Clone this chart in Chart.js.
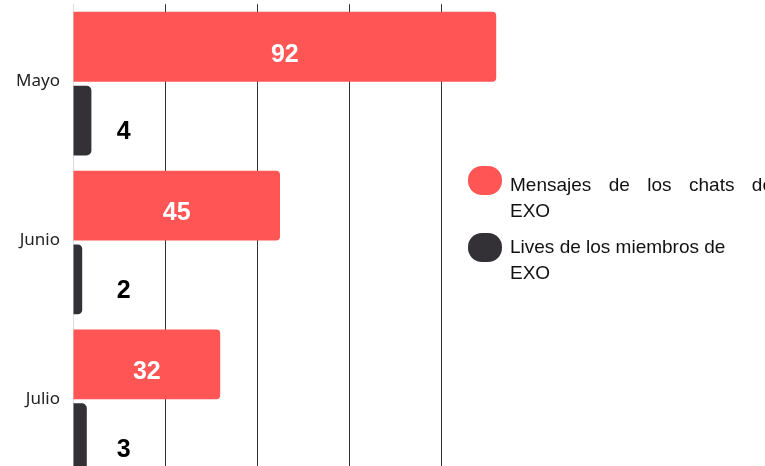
<!DOCTYPE html>
<html>
<head>
<meta charset="utf-8">
<script src="https://cdn.jsdelivr.net/npm/chart.js@4/dist/chart.umd.min.js"></script>
<style>
  html, body { margin: 0; padding: 0; background: #fff; width: 765px; height: 466px; overflow: hidden; }
  #chart { position: absolute; left: 0; top: -11px; }
  .legend { position: absolute; left: 468px; top: 0; font-family: "Liberation Sans", Arial, sans-serif; font-size: 19px; color: #111; line-height: 26px; }
  .legend .dot { position: absolute; left: 0; width: 34px; height: 29px; border-radius: 14px; }
  .legend .txt { position: absolute; left: 42px; white-space: nowrap; }
  .legend .just { display: block; width: 263px; text-align: justify; text-align-last: justify; white-space: normal; }
</style>
</head>
<body>
<canvas id="chart" width="520" height="507"></canvas>
<div class="legend" id="legend"></div>
<script>
// ── Data ──────────────────────────────────────────────
const months = ['Mayo', 'Junio', 'Julio'];
const chatMessages = [92, 45, 32];
const memberLives = [4, 2, 3];
const seriesNames = ['Mensajes de los chats de EXO', 'Lives de los miembros de EXO'];

const RED = '#ff5555';
const DARK = '#333136';

// legend (HTML, sits to the right of the plot)
const legend = document.getElementById('legend');
legend.innerHTML = `
  <div class="dot" style="top:166px;background:${RED}"></div>
  <div class="txt" style="top:172px"><span class="just">Mensajes de los chats de</span>EXO</div>
  <div class="dot" style="top:233px;background:${DARK}"></div>
  <div class="txt" style="top:234px">Lives de los miembros de<br>EXO</div>
`;

// value labels drawn on / beside each bar
const barLabels = {
  id: 'barLabels',
  afterDatasetsDraw(chart) {
    const { ctx } = chart;
    const x = chart.scales.x;
    ctx.save();
    ctx.font = 'bold 25px "Liberation Sans", Arial, sans-serif';
    ctx.textAlign = 'center';
    ctx.textBaseline = 'middle';
    chart.getDatasetMeta(0).data.forEach((bar, i) => {
      ctx.fillStyle = '#fff';
      ctx.fillText(chatMessages[i], (bar.x + bar.base) / 2, bar.y + 8);
    });
    chart.getDatasetMeta(1).data.forEach((bar, i) => {
      ctx.fillStyle = '#000';
      ctx.fillText(memberLives[i], x.getPixelForValue(11), bar.y + 12);
    });
    ctx.restore();
  }
};

new Chart(document.getElementById('chart'), {
  type: 'bar',
  data: {
    labels: months,
    datasets: [
      { label: seriesNames[0], data: chatMessages, backgroundColor: RED, borderRadius: 4,
        categoryPercentage: 0.929, barPercentage: 0.946 },
      { label: seriesNames[1], data: memberLives, backgroundColor: DARK, borderRadius: 5,
        categoryPercentage: 0.929, barPercentage: 0.946 },
    ],
  },
  options: {
    indexAxis: 'y',
    responsive: false,
    animation: false,
    layout: { padding: { top: 0, right: 10, left: 0, bottom: 0 } },
    plugins: { legend: { display: false }, tooltip: { enabled: false } },
    scales: {
      x: {
        min: 0, max: 95,
        afterFit: (s) => { s.height = 0; },
        ticks: { display: false, stepSize: 20 },
        border: { display: false },
        grid: {
          drawTicks: false,
          color: (c) => (c.tick && c.tick.value > 0 && c.tick.value % 20 === 0) ? '#333' : 'rgba(0,0,0,0)',
        },
      },
      y: {
        afterFit: (s) => { s.width = 73; },
        grid: { display: false },
        border: { color: '#dddddd' },
        ticks: { color: '#222', padding: 5, labelOffset: -2, font: { family: '"Noto Sans", sans-serif', size: 17 } },
      },
    },
  },
  plugins: [barLabels],
});
</script>
</body>
</html>
